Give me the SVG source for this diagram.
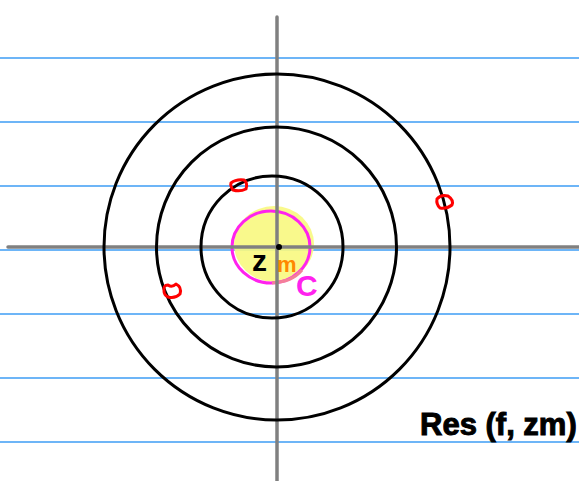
<svg xmlns="http://www.w3.org/2000/svg" width="579" height="481" viewBox="0 0 579 481">
<style>
.rule{stroke:#3d9df5;stroke-width:1.5}
.axis{stroke:#808080;stroke-width:3.5;stroke-linecap:round}
.ring{fill:none;stroke:#000;stroke-width:3}
.pole{fill:none;stroke:#f00;stroke-width:3;stroke-linejoin:round}
.hand{font-family:"Liberation Sans",Arial,sans-serif;font-weight:bold}
</style>
<rect width="579" height="481" fill="#fff"/>
<g id="rules">
<line class="rule" x1="0" y1="58" x2="579" y2="58"/>
<line class="rule" x1="0" y1="122" x2="579" y2="122"/>
<line class="rule" x1="0" y1="186" x2="579" y2="186"/>
<line class="rule" x1="0" y1="250" x2="579" y2="250"/>
<line class="rule" x1="0" y1="314" x2="579" y2="314"/>
<line class="rule" x1="0" y1="378" x2="579" y2="378"/>
<line class="rule" x1="0" y1="442" x2="579" y2="442"/>
</g>
<g id="disk">
<ellipse cx="274" cy="244" rx="40" ry="38" fill="#f8f880" opacity="0.9"/>
<ellipse cx="271" cy="247" rx="39" ry="36" fill="none" stroke="#ff22ee" stroke-width="3"/>
<path d="M302 270 Q292 282 272 283" fill="none" stroke="#f47f9a" stroke-width="3"/>
</g>
<g id="axes">
<line class="axis" x1="8" y1="247" x2="579" y2="247"/>
<line class="axis" x1="277" y1="17" x2="277" y2="481"/>
</g>
<g id="rings">
<circle class="ring" cx="272" cy="247" r="71"/>
<circle class="ring" cx="276.5" cy="247" r="120"/>
<circle class="ring" cx="277" cy="247" r="173"/>
</g>
<g id="poles">
<path class="pole" d="M231 183 Q236 179 244 180 Q248 183 246 189 Q240 192 233 190 Q230 186 231 183 Z"/>
<path class="pole" d="M164 291 Q163 285 168 285 Q172 288 176 284 Q182 287 180 294 Q175 299 168 297 Q164 295 164 291 Z"/>
<path class="pole" d="M437 199 Q441 194 448 196 Q454 200 452 205 Q447 209 440 208 Q436 204 437 199 Z"/>
</g>
<g id="labels">
<text class="hand" x="252" y="271" font-size="30" fill="#000">z</text>
<circle cx="279" cy="247" r="3" fill="#000"/>
<text class="hand" x="277" y="272" font-size="22" fill="#ff8800">m</text>
<text class="hand" x="296" y="296" font-size="30" fill="#ff22ee">C</text>
<text class="hand" x="420" y="435" font-size="31" font-weight="normal" stroke="#000" stroke-width="1" fill="#000">Res (f, zm)</text>
</g>
</svg>
